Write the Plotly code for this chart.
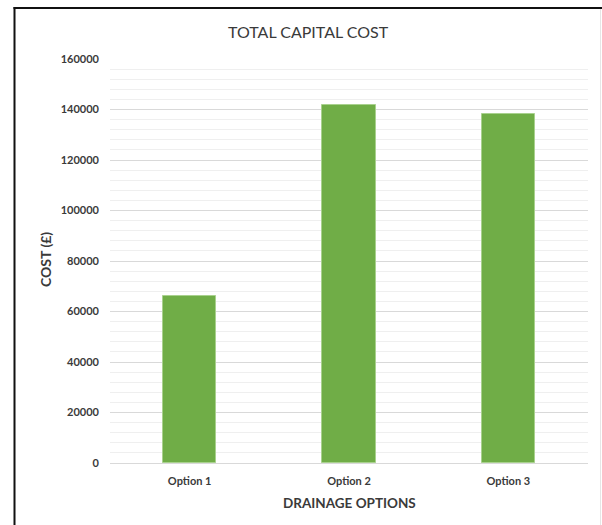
import plotly.graph_objects as go

# Drainage options and their total capital cost (GBP)
options = ["Option 1", "Option 2", "Option 3"]
capital_cost = [66300, 141700, 138200]

y_ticks = [0, 20000, 40000, 60000, 80000, 100000, 120000, 140000, 160000]

W, H = 602, 525
L, R, T, B = 110, 14, 59, 62
plot_w = W - L - R
plot_h = H - T - B


def px_x(px):
    return (px - L) / plot_w


def px_y(py):
    return (H - B - py) / plot_h


FONT = "Lato, 'Open Sans', sans-serif"

fig = go.Figure(
    go.Bar(
        x=options,
        y=capital_cost,
        width=0.335,
        marker=dict(color="#70ad47", line=dict(color="#a9d18e", width=1)),
        hoverinfo="x+y",
    )
)

fig.update_layout(
    width=W,
    height=H,
    margin=dict(l=L, r=R, t=T, b=B, pad=0),
    paper_bgcolor="white",
    plot_bgcolor="white",
    showlegend=False,
    bargap=0,
    font=dict(family=FONT, color="#404040"),
)

fig.update_yaxes(
    range=[0, 160000],
    tickmode="array",
    tickvals=y_ticks,
    ticktext=[str(v) for v in y_ticks],
    tickfont=dict(size=11, family=FONT, color="#3a3a3a", weight="bold"),
    showgrid=True,
    gridcolor="#d9d9d9",
    gridwidth=1,
    minor=dict(dtick=4000, showgrid=True, gridcolor="#efefef", gridwidth=1),
    zeroline=False,
    showline=False,
    ticks="",
    ticklabelstandoff=10,
    fixedrange=True,
)

fig.update_xaxes(
    tickfont=dict(size=11, family=FONT, color="#3a3a3a", weight="bold"),
    showgrid=False,
    showline=True,
    linecolor="#d9d9d9",
    linewidth=1,
    ticks="",
    ticklabelstandoff=8,
    fixedrange=True,
)

annotations = [
    dict(
        text="TOTAL CAPITAL COST",
        x=px_x(308.5), y=px_y(32),
        xref="paper", yref="paper", showarrow=False,
        xanchor="center", yanchor="middle",
        font=dict(size=16, family=FONT, color="#3a3a3a"),
    ),
    dict(
        text="DRAINAGE OPTIONS",
        x=px_x(349.5), y=px_y(503),
        xref="paper", yref="paper", showarrow=False,
        xanchor="center", yanchor="middle",
        font=dict(size=13.5, family=FONT, color="#3a3a3a", weight="bold"),
    ),
    dict(
        text="COST (£)",
        x=px_x(45), y=px_y(260),
        xref="paper", yref="paper", showarrow=False,
        xanchor="center", yanchor="middle", textangle=-90,
        font=dict(size=14, family=FONT, color="#3a3a3a", weight="bold"),
    ),
]
fig.update_layout(annotations=annotations)

# Frame around the chart: dark top and left edges, faint right edge
shapes = [
    dict(type="line", xref="paper", yref="paper",
         x0=px_x(14.5), x1=px_x(14.5), y0=px_y(7), y1=px_y(530),
         line=dict(color="#111111", width=2)),
    dict(type="line", xref="paper", yref="paper",
         x0=px_x(13.5), x1=px_x(605), y0=px_y(8), y1=px_y(8),
         line=dict(color="#111111", width=2)),
    dict(type="line", xref="paper", yref="paper",
         x0=px_x(600.5), x1=px_x(600.5), y0=px_y(9), y1=px_y(530),
         line=dict(color="#e6e6e6", width=1)),
]
fig.update_layout(shapes=shapes)

fig.write_html("out.html")
